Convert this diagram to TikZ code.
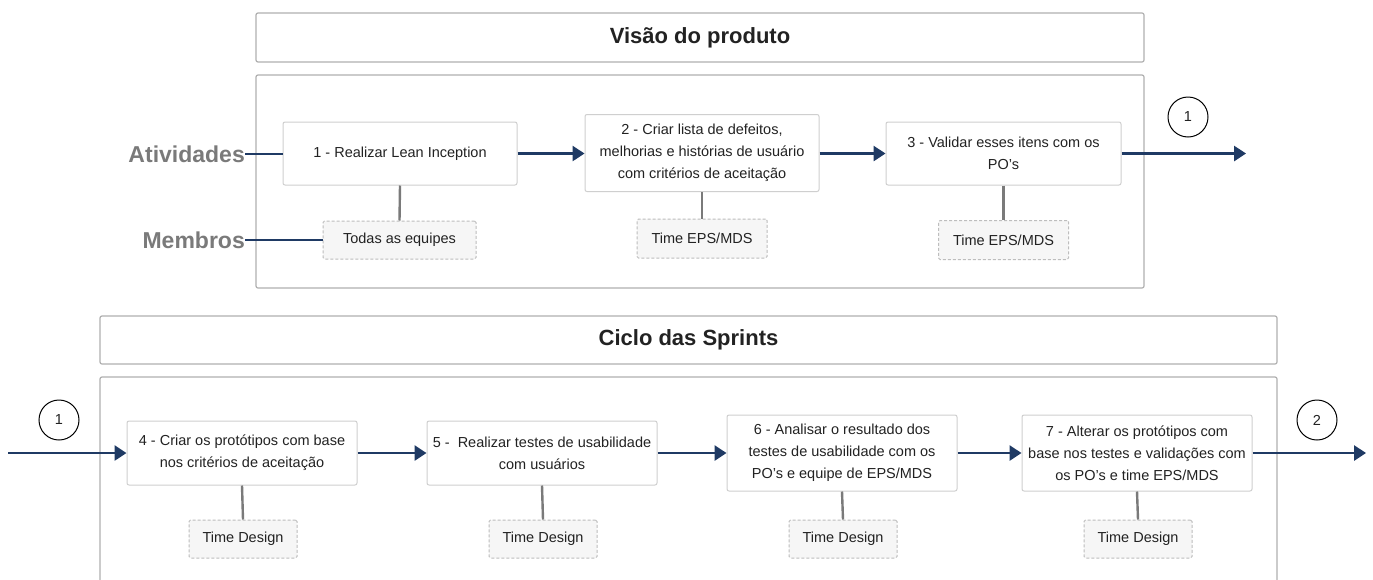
\documentclass[tikz,border=0pt]{standalone}
\usepackage{fontspec}
\setmainfont{Liberation Sans}
\usetikzlibrary{arrows.meta,positioning}
\definecolor{navy}{HTML}{1F3A64}
\definecolor{boxline}{HTML}{CFCFCF}
\definecolor{frameline}{HTML}{B0B0B0}
\definecolor{memfill}{HTML}{F6F6F6}
\definecolor{memline}{HTML}{BDBDBD}
\definecolor{linkgray}{HTML}{7A7A7A}
\definecolor{labelgray}{HTML}{7A7A7A}
\definecolor{txt}{HTML}{222222}
\tikzset{
  frame/.style={draw=frameline, line width=1.2pt, rounded corners=2pt},
  titlebox/.style={draw=frameline, line width=1.2pt, rounded corners=2pt, fill=white,
    font=\fontsize{22}{26}\selectfont\bfseries, text=txt},
  stepbox/.style={draw=boxline, line width=1pt, rounded corners=2pt, fill=white,
    align=center, text=txt, font=\fontsize{14.5}{22}\selectfont, inner sep=0pt},
  membox/.style={draw=memline, dashed, dash pattern=on 3pt off 2pt, line width=1pt, fill=memfill,
    rounded corners=1.5pt, align=center, text=txt, font=\fontsize{14.5}{17}\selectfont, inner sep=0pt},
  flow/.style={draw=navy, line width=2.8pt, -{Triangle[length=12pt,width=15pt]}},
  plain/.style={draw=navy, line width=2.8pt},
  link/.style={draw=linkgray, line width=2.4pt},
  rowlabel/.style={text=labelgray, font=\fontsize{23}{26}\selectfont\bfseries, anchor=east, inner sep=0pt},
  badge/.style={circle, draw=black, line width=1pt, minimum size=40pt, inner sep=0pt,
    font=\fontsize{14.5}{17}\selectfont, text=txt}
}
\begin{document}
\begin{tikzpicture}[x=1pt,y=-1pt]
\useasboundingbox[fill=white] (0,0) rectangle (1373,579);

% ---------- Visão do produto ----------
\node[titlebox, minimum width=888pt, minimum height=49pt] (t1) at (700,37.5) {Visão do produto};
\draw[frame] (256,75) rectangle (1144,288);

\node[stepbox, minimum width=234pt, minimum height=63pt] (s1) at (400,153.5) {1 - Realizar Lean Inception};
\node[stepbox, minimum width=234pt, minimum height=77pt] (s2) at (702,153) {2 - Criar lista de defeitos,\\melhorias e histórias de usuário\\com critérios de aceitação};
\node[stepbox, minimum width=235pt, minimum height=63pt] (s3) at (1003.5,153.5) {3 - Validar esses itens com os\\PO's};

\node[membox, minimum width=153pt, minimum height=38pt] (m1) at (399.5,240) {Todas as equipes};
\node[membox, minimum width=130pt, minimum height=39pt] (m2) at (702,238.5) {Time EPS/MDS};
\node[membox, minimum width=130pt, minimum height=39pt] (m3) at (1003.5,240) {Time EPS/MDS};

\node[rowlabel] (act) at (245,154) {Atividades};
\node[rowlabel] (mem) at (245,240) {Membros};

\draw[plain] (act.east) -- (s1.west |- act.east);
\draw[plain] (mem.east) -- (m1.west);
\draw[flow] (s1.east) -- (s2.west |- s1.east);
\draw[flow] (s2.east |- s3.west) -- (s3.west);
\coordinate (out1) at (1246,153.5);
\draw[flow] (s3.east) -- (out1);
\node[badge] (c1a) at (1188,117) {1};

\draw[link] (s1.south) -- (m1.north);
\draw[link] (s2.south) -- (m2.north);
\draw[link] (s3.south) -- (m3.north);

% ---------- Ciclo das Sprints ----------
\node[titlebox, minimum width=1177pt, minimum height=48pt] (t2) at (688.5,340) {Ciclo das Sprints};
\draw[frame] (1277,600) -- (1277,377) -- (100,377) -- (100,600);

\node[stepbox, minimum width=230pt, minimum height=64pt] (s4) at (242,453) {4 - Criar os protótipos com base\\nos critérios de aceitação};
\node[stepbox, minimum width=230pt, minimum height=64pt] (s5) at (542,453) {5 -\ \ Realizar testes de usabilidade\\com usuários};
\node[stepbox, minimum width=230pt, minimum height=76pt] (s6) at (842,453) {6 - Analisar o resultado dos\\testes de usabilidade com os\\PO's e equipe de EPS/MDS};
\node[stepbox, minimum width=230pt, minimum height=76pt] (s7) at (1137,453) {7 - Alterar os protótipos com\\base nos testes e validações com\\os PO's e time EPS/MDS};

\node[membox, minimum width=108pt, minimum height=38pt] (m4) at (243,539) {Time Design};
\node[membox, minimum width=108pt, minimum height=38pt] (m5) at (543,539) {Time Design};
\node[membox, minimum width=108pt, minimum height=38pt] (m6) at (843,539) {Time Design};
\node[membox, minimum width=108pt, minimum height=38pt] (m7) at (1138,539) {Time Design};

\coordinate (in1) at (8,453);
\node[badge] (c1b) at (59,420) {1};
\draw[flow] (in1) -- (s4.west);
\draw[flow] (s4.east) -- (s5.west);
\draw[flow] (s5.east) -- (s6.west);
\draw[flow] (s6.east) -- (s7.west);
\coordinate (out2) at (1366,453);
\draw[flow] (s7.east) -- (out2);
\node[badge] (c2) at (1317,420) {2};

\draw[link] (s4.south) -- (m4.north);
\draw[link] (s5.south) -- (m5.north);
\draw[link] (s6.south) -- (m6.north);
\draw[link] (s7.south) -- (m7.north);
\end{tikzpicture}
\end{document}
